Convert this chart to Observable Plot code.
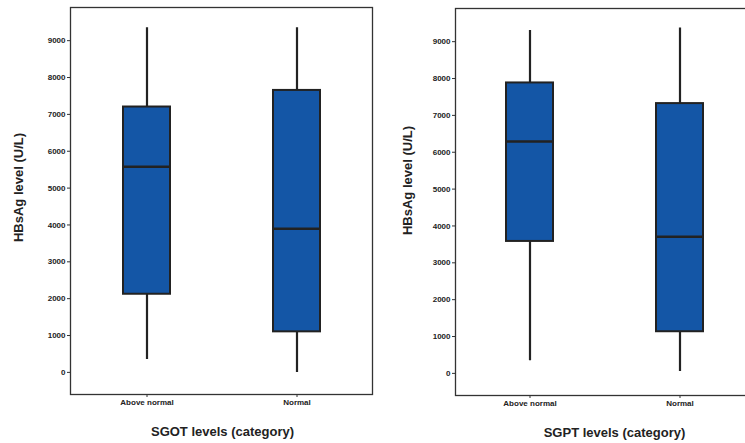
<!DOCTYPE html>
<html><head><meta charset="utf-8">
<script src="https://cdn.jsdelivr.net/npm/d3@7"></script>
<script src="https://cdn.jsdelivr.net/npm/@observablehq/plot@0.6"></script>
<style>
html,body{margin:0;padding:0;background:#fff;overflow:hidden;width:745px;height:443px}
#wrap{position:relative;width:745px;height:443px;overflow:hidden;background:#fff}
#p1,#p2{position:absolute;top:0}
#p1{left:0;width:375px}
#p2{left:375px;width:379px}
svg{max-width:none !important}
</style></head><body><div id="wrap"><div id="p1"></div><div id="p2"></div></div>
<script>
const categories = ["Above normal", "Normal"];
const yTicks = [0, 1000, 2000, 3000, 4000, 5000, 6000, 7000, 8000, 9000];
const yTitle = "HBsAg level (U/L)";

// SGOT panel
const sgotMin = [350, 0];
const sgotQ1 = [2120, 1100];
const sgotMedian = [5580, 3900];
const sgotQ3 = [7200, 7650];
const sgotMax = [9350, 9350];

// SGPT panel
const sgptMin = [340, 50];
const sgptQ1 = [3580, 1130];
const sgptMedian = [6290, 3710];
const sgptQ3 = [7880, 7320];
const sgptMax = [9300, 9370];

function rows(mn, q1, md, q3, mx) {
  return categories.map((c, i) => ({cat: c, min: mn[i], q1: q1[i], median: md[i], q3: q3[i], max: mx[i]}));
}

function panel(el, data, xTitle, o) {
  const chart = Plot.plot({
    width: o.width, height: 443,
    marginLeft: o.ml, marginRight: o.mr, marginTop: o.mt, marginBottom: o.mb,
    style: {fontFamily: "'Liberation Sans', Arial, sans-serif", background: "white", color: "#222", maxWidth: "none"},
    x: {domain: categories, paddingInner: 0.687, paddingOuter: o.po, label: null},
    y: {domain: [-600, 9900], label: null},
    marks: [
      Plot.frame({stroke: "#333", strokeWidth: 1.3}),
      Plot.axisY({ticks: yTicks, tickSize: 3, tickPadding: 2, fontSize: 8, fontWeight: "bold", tickFormat: d => String(d), label: null, stroke: "#333"}),
      Plot.axisX({tickSize: 3, tickPadding: 2, fontSize: 8, fontWeight: "bold", label: null, stroke: "#333"}),
      Plot.ruleX(data, {x: "cat", y1: "min", y2: "max", stroke: "#222", strokeWidth: 2.2}),
      Plot.barY(data, {x: "cat", y1: "q1", y2: "q3", fill: "#1456a6", stroke: "#222", strokeWidth: 2}),
      Plot.tickY(data, {x: "cat", y: "median", stroke: "#222", strokeWidth: 2.5}),
      Plot.text([yTitle], {text: d => d, frameAnchor: "left", textAnchor: "middle", lineAnchor: "middle", rotate: -90, dx: o.ydx, dy: o.ydy, fontSize: 13, fontWeight: "bold", fill: "#222"}),
      Plot.text([xTitle], {text: d => d, frameAnchor: "bottom", textAnchor: "middle", lineAnchor: "middle", dx: o.xdx, dy: 37.5, fontSize: 13, fontWeight: "bold", fill: "#222"})
    ]
  });
  document.getElementById(el).appendChild(chart);
}

panel("p1", rows(sgotMin, sgotQ1, sgotMedian, sgotQ3, sgotMax), "SGOT levels (category)",
  {width: 375, ml: 70, mr: 3, mt: 7, mb: 49, po: 0.35, ydx: -52, ydy: -13.5, xdx: 1});
panel("p2", rows(sgptMin, sgptQ1, sgptMedian, sgptQ3, sgptMax), "SGPT levels (category)",
  {width: 379, ml: 80, mr: 1, mt: 8, mb: 48, po: 0.334, ydx: -47.5, ydy: -21.5, xdx: 10});
</script></body></html>
